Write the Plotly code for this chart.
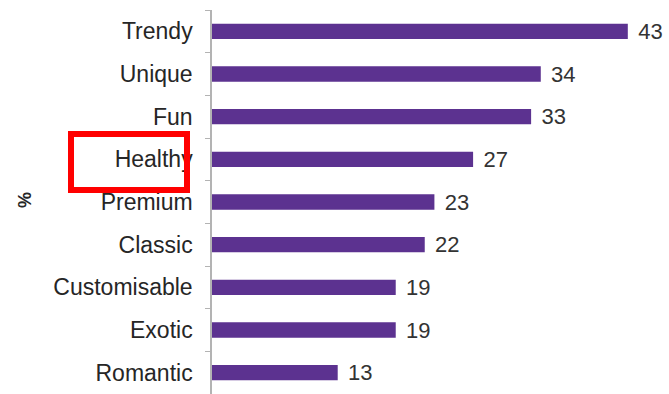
import plotly.graph_objects as go

categories = ["Trendy", "Unique", "Fun", "Healthy", "Premium", "Classic",
              "Customisable", "Exotic", "Romantic"]
values = [43, 34, 33, 27, 23, 22, 19, 19, 13]
value_labels = [str(v) for v in values]
axis_title = "%"

W, H = 669, 394
ML, MR, MT, MB = 212, 13, 10, 0
pw = W - ML - MR
ph = H - MT - MB

def px_to_paper_x(px):
    return (px - ML) / pw

def px_to_paper_y(py):
    return (H - MB - py) / ph

FONT = "Liberation Sans, Arial, sans-serif"

fig = go.Figure(go.Bar(
    x=values, y=categories, orientation="h",
    marker=dict(color="#5C3290", line=dict(width=0)),
    text=value_labels, texttemplate="\u2004%{text}",
    textposition="outside", constraintext="none",
    textfont=dict(family=FONT, size=22, color="#333333"),
    cliponaxis=False,
))

fig.update_layout(
    width=W, height=H,
    margin=dict(l=ML, r=MR, t=MT, b=MB, autoexpand=False),
    paper_bgcolor="white", plot_bgcolor="white",
    bargap=0.64,
    showlegend=False,
    font=dict(family=FONT, size=23, color="#262626"),
    xaxis=dict(range=[0, pw / 9.67], visible=False, fixedrange=True, automargin=False),
    yaxis=dict(
        type="category", categoryorder="array", categoryarray=categories,
        autorange="reversed", automargin=False,
        showline=True, linecolor="#b3b3b3", linewidth=1.5,
        ticks="outside", tickson="boundaries", ticklen=5, tickcolor="#b3b3b3",
        ticklabelstandoff=13,
        tickfont=dict(size=23, color="#262626"),
        showgrid=False, zeroline=False,
    ),
    shapes=[dict(
        type="rect", xref="paper", yref="paper",
        x0=px_to_paper_x(71), x1=px_to_paper_x(187),
        y0=px_to_paper_y(190), y1=px_to_paper_y(134),
        line=dict(color="#ff0000", width=6), fillcolor="rgba(0,0,0,0)",
        layer="above",
    )],
    annotations=[dict(
        text="<b>" + axis_title + "</b>", xref="paper", yref="paper",
        x=px_to_paper_x(25), y=px_to_paper_y(200),
        xanchor="center", yanchor="middle",
        showarrow=False, textangle=-90,
        font=dict(size=18, color="#262626"),
    )],
)

fig.write_html(
    "out.html",
    config={"displayModeBar": False},
    post_script="document.body.style.margin='0';document.body.style.overflow='hidden';",
)
